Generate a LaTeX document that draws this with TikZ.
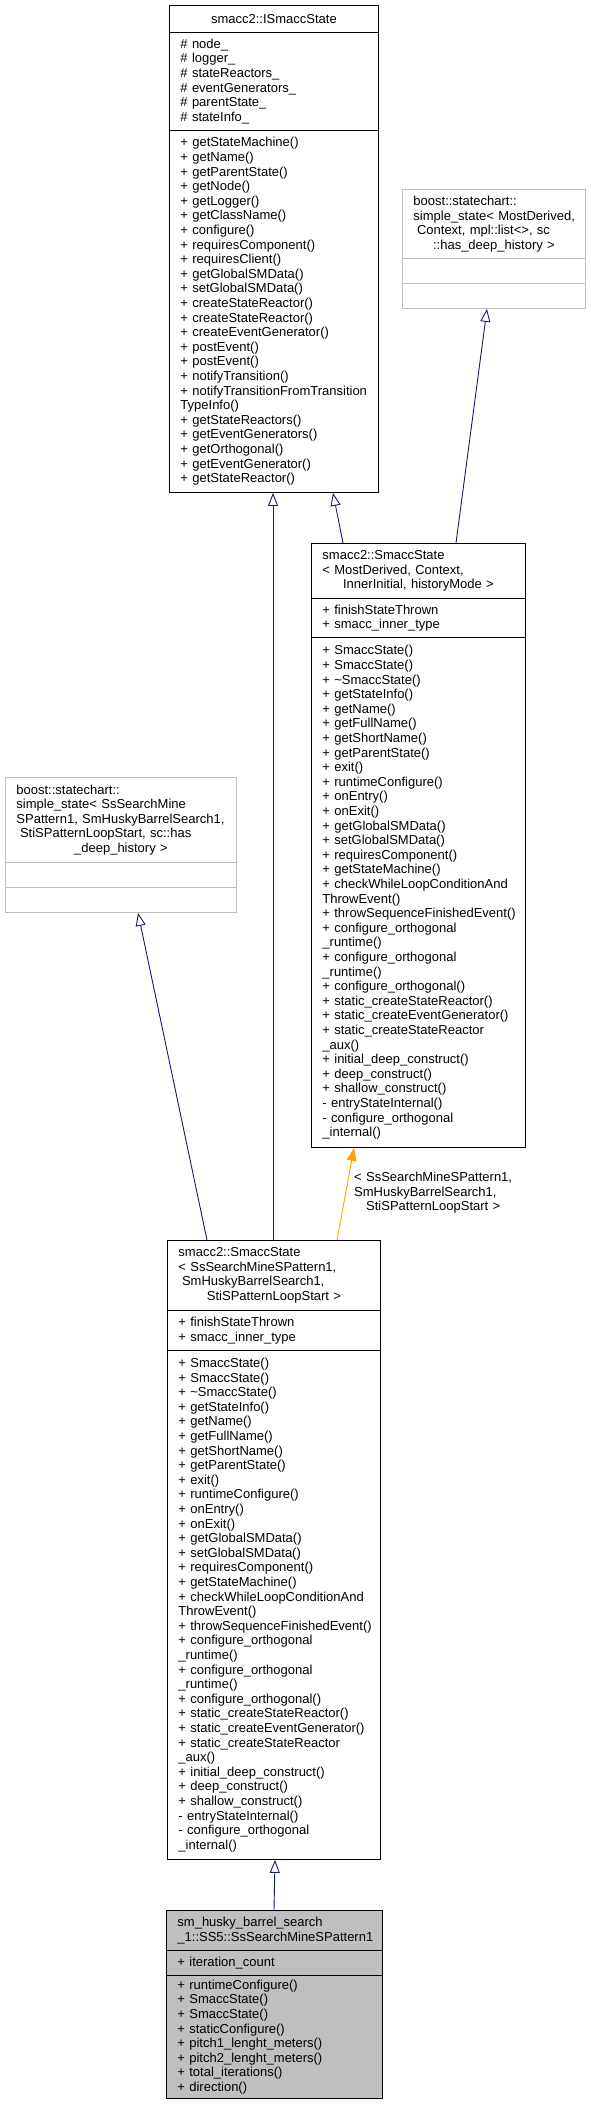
\documentclass[tikz,border=0pt]{standalone}
\usepackage{fontspec}
\setmainfont{Liberation Sans}
\usetikzlibrary{arrows.meta}
\definecolor{edgeblue}{HTML}{191970}
\definecolor{grayb}{HTML}{BFBFBF}
\definecolor{orangeedge}{HTML}{FFA500}
\hyphenpenalty=10000
\exhyphenpenalty=10000
\newcommand\nohy{\hyphenpenalty=10000\exhyphenpenalty=10000\lefthyphenmin=64\righthyphenmin=64}
\newcommand\cln[1]{\\\mbox{}\hspace*{\fill}#1\hspace*{\fill}\mbox{}}
\newcommand\lsp{\hspace*{3.6pt}}
\newcommand\smaccMethods{+~SmaccState()\\+~SmaccState()\\+~\textasciitilde SmaccState()\\+~getStateInfo()\\+~getName()\\+~getFullName()\\+~getShortName()\\+~getParentState()\\+~exit()\\+~runtimeConfigure()\\+~onEntry()\\+~onExit()\\+~getGlobalSMData()\\+~setGlobalSMData()\\+~requiresComponent()\\+~getStateMachine()\\+~checkWhileLoopConditionAnd\\ThrowEvent()\\+~throwSequenceFinishedEvent()\\+~configure\_orthogonal\\\_runtime()\\+~configure\_orthogonal\\\_runtime()\\+~configure\_orthogonal()\\+~static\_createStateReactor()\\+~static\_createEventGenerator()\\+~static\_createStateReactor\\\_aux()\\+~initial\_deep\_construct()\\+~deep\_construct()\\+~shallow\_construct()\\-~entryStateInternal()\\-~configure\_orthogonal\\\_internal()}
\begin{document}
\begin{tikzpicture}[x=1pt,y=-1pt,
  cmp/.style={draw, line width=0.9pt, anchor=north west, inner xsep=11pt, inner ysep=0pt, align=left, font=\fontsize{13}{14.6}\selectfont\nohy},
  gcmp/.style={cmp, draw=grayb},
  fcmp/.style={cmp, fill=grayb},
  inh/.style={draw=edgeblue, line width=0.9pt, -{Triangle[open, length=13pt, width=10pt]}},
  tmpl/.style={draw=orangeedge, line width=0.9pt, -{Triangle[length=13pt, width=10pt]}},
  lbl/.style={anchor=north west, inner sep=0pt, align=left, text width=158pt, font=\fontsize{13}{14.6}\selectfont\nohy}
]
\useasboundingbox (0,0) rectangle (591,2109);

% smacc2::ISmaccState
\node[cmp, text width=187pt, minimum height=27pt, align=center] (isT) at (169,5) {smacc2::ISmaccState};
\node[cmp, text width=187pt, minimum height=98pt] (isA) at (169,32) {\#~node\_\\\#~logger\_\\\#~stateReactors\_\\\#~eventGenerators\_\\\#~parentState\_\\\#~stateInfo\_};
\node[cmp, text width=187pt, minimum height=362pt] (isM) at (169,130) {+~getStateMachine()\\+~getName()\\+~getParentState()\\+~getNode()\\+~getLogger()\\+~getClassName()\\+~configure()\\+~requiresComponent()\\+~requiresClient()\\+~getGlobalSMData()\\+~setGlobalSMData()\\+~createStateReactor()\\+~createStateReactor()\\+~createEventGenerator()\\+~postEvent()\\+~postEvent()\\+~notifyTransition()\\+~notifyTransitionFromTransition\\TypeInfo()\\+~getStateReactors()\\+~getEventGenerators()\\+~getOrthogonal()\\+~getEventGenerator()\\+~getStateReactor()};

% boost simple_state (top right)
\node[gcmp, text width=161pt, minimum height=69pt] (btrT) at (402,189) {boost::statechart::\\simple\_state<~MostDerived,\\\lsp Context,~mpl::list<>,~sc\cln{::has\_deep\_history~>}};
\node[gcmp, text width=161pt, minimum height=25pt] (btrA) at (402,258) {};
\node[gcmp, text width=161pt, minimum height=25pt] (btrM) at (402,283) {};

% smacc2::SmaccState template
\node[cmp, text width=192pt, minimum height=55pt] (tplT) at (311,543) {smacc2::SmaccState\\<~MostDerived,~Context,\cln{InnerInitial,~historyMode~>}};
\node[cmp, text width=192pt, minimum height=39pt] (tplA) at (311,598) {+~finishStateThrown\\+~smacc\_inner\_type};
\node[cmp, text width=192pt, minimum height=510pt] (tplM) at (311,637) {\smaccMethods};

% boost simple_state (left)
\node[gcmp, text width=209pt, minimum height=85pt] (blT) at (5,777) {boost::statechart::\\simple\_state<~SsSearchMine\\SPattern1,~SmHuskyBarrelSearch1,\\\lsp StiSPatternLoopStart,~sc::has\cln{\_deep\_history~>}};
\node[gcmp, text width=209pt, minimum height=25pt] (blA) at (5,862) {};
\node[gcmp, text width=209pt, minimum height=25pt] (blM) at (5,887) {};

% smacc2::SmaccState instance
\node[cmp, text width=191pt, minimum height=70pt] (instT) at (167,1240) {smacc2::SmaccState\\<~SsSearchMineSPattern1,\\\lsp SmHuskyBarrelSearch1,\cln{StiSPatternLoopStart~>}};
\node[cmp, text width=191pt, minimum height=40pt] (instA) at (167,1310) {+~finishStateThrown\\+~smacc\_inner\_type};
\node[cmp, text width=191pt, minimum height=509pt] (instM) at (167,1350) {\smaccMethods};

% final class
\node[fcmp, text width=194pt, minimum height=40pt] (finT) at (166,1910) {sm\_husky\_barrel\_search\cln{\_1::SS5::SsSearchMineSPattern1}};
\node[fcmp, text width=194pt, minimum height=25pt] (finA) at (166,1950) {+~iteration\_count};
\node[fcmp, text width=194pt, minimum height=123pt] (finM) at (166,1975) {+~runtimeConfigure()\\+~SmaccState()\\+~SmaccState()\\+~staticConfigure()\\+~pitch1\_lenght\_meters()\\+~pitch2\_lenght\_meters()\\+~total\_iterations()\\+~direction()};

% connectors
\draw[inh] ([xshift=106pt]instT.north west) -- ([xshift=104pt]isM.south west);
\draw[inh] ([xshift=32pt]tplT.north west) -- ([xshift=164pt]isM.south west);
\draw[inh] ([xshift=145pt]tplT.north west) -- ([xshift=85pt]btrM.south west);
\draw[inh] ([xshift=40pt]instT.north west) -- ([xshift=133pt]blM.south west);
\draw[tmpl] ([xshift=170pt]instT.north west) -- ([xshift=43pt]tplM.south west);
\draw[inh] ([xshift=108pt]finT.north west) -- ([xshift=108pt]instM.south west);
\node[lbl] (tlabel) at (354,1172) {<~SsSearchMineSPattern1,\\SmHuskyBarrelSearch1,\cln{StiSPatternLoopStart~>}};
\end{tikzpicture}
\end{document}
